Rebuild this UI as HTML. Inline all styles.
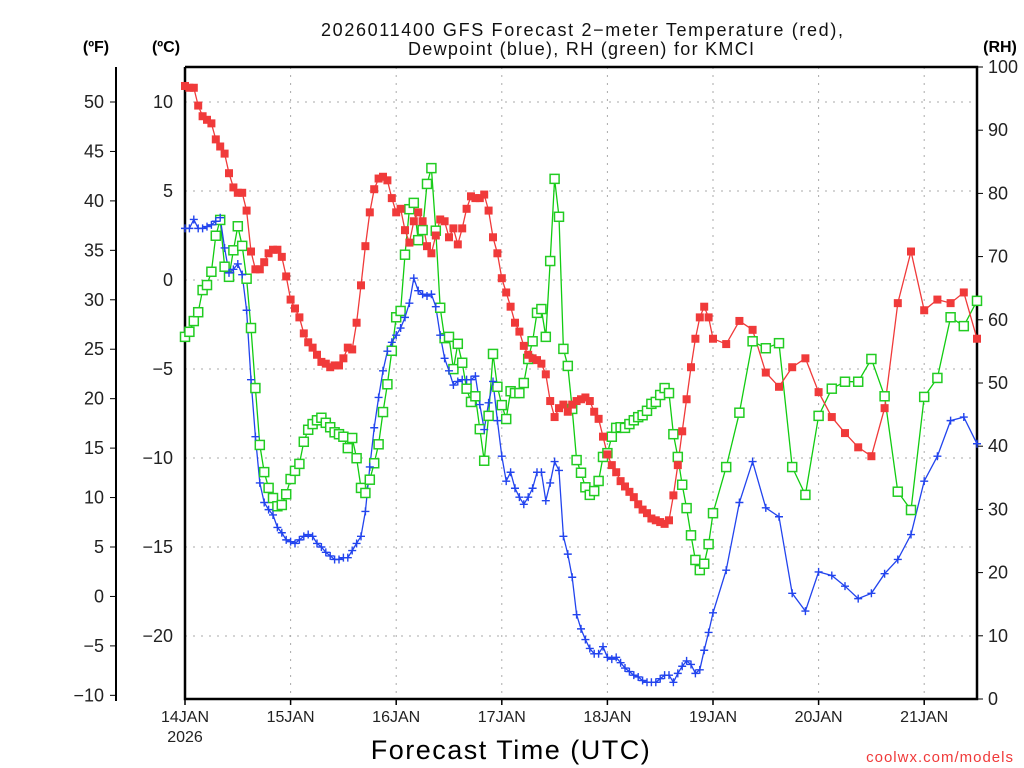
<!DOCTYPE html>
<html><head><meta charset="utf-8"><style>
body{margin:0;background:#fff;}
svg{display:block;font-family:"Liberation Sans","DejaVu Sans",sans-serif;}
</style></head><body>
<svg id="chart" width="1024" height="768" viewBox="0 0 1024 768"></svg>
<script>
const tempC=[10.9,10.8,10.8,9.8,9.2,9.0,8.8,7.9,7.5,7.1,6.0,5.2,4.9,4.9,3.9,1.6,0.6,0.6,1.0,1.5,1.7,1.7,1.3,0.2,-1.1,-1.6,-2.1,-3.0,-3.5,-3.8,-4.2,-4.6,-4.7,-4.9,-4.8,-4.8,-4.4,-3.8,-3.9,-2.4,-0.3,1.9,3.8,5.1,5.7,5.8,5.6,4.6,3.8,4.0,2.8,2.1,3.3,3.8,3.3,1.9,1.5,2.5,3.4,3.3,2.4,2.9,2.0,2.9,4.0,4.7,4.6,4.6,4.8,3.9,2.4,1.5,0.1,-0.7,-1.5,-2.4,-2.9,-3.7,-4.2,-4.4,-4.5,-4.7,-5.3,-6.8,-7.7,-7.2,-7.0,-7.4,-7.0,-6.8,-6.7,-6.6,-6.8,-7.4,-7.8,-8.8,-9.8,-10.4,-10.8,-11.3,-11.6,-11.9,-12.2,-12.6,-12.9,-13.1,-13.4,-13.5,-13.6,-13.7,-13.5,-12.1,-10.4,-8.5,-6.7,-4.9,-3.3,-2.1,-1.5,-2.1,-3.3,-3.6,-2.3,-2.8,-5.2,-6.0,-4.9,-4.4,-6.3,-7.7,-8.6,-9.4,-9.9,-7.2,-1.3,1.6,-1.7,-1.1,-1.3,-0.7,-3.3];
const dewC=[2.9,2.9,3.4,2.9,2.9,3.0,3.1,3.3,3.5,1.8,0.4,0.6,0.9,0.3,-1.7,-5.6,-8.8,-11.4,-12.5,-12.9,-13.2,-13.9,-14.2,-14.6,-14.7,-14.8,-14.6,-14.4,-14.3,-14.4,-14.8,-15.0,-15.3,-15.5,-15.7,-15.7,-15.6,-15.6,-15.2,-14.8,-14.4,-13.0,-10.5,-8.3,-6.6,-5.1,-4.0,-3.5,-3.1,-2.7,-2.1,-1.3,0.1,-0.6,-0.8,-0.9,-0.8,-1.5,-3.1,-4.4,-5.1,-5.9,-5.7,-5.6,-5.6,-5.6,-5.4,-7.0,-8.4,-6.9,-5.7,-7.9,-9.9,-11.3,-10.8,-11.7,-12.2,-12.6,-12.2,-11.7,-10.8,-10.8,-12.4,-11.4,-10.2,-10.7,-14.4,-15.4,-16.7,-18.8,-19.6,-20.2,-20.7,-21.0,-21.0,-20.6,-21.2,-21.3,-21.2,-21.5,-21.8,-22.0,-22.2,-22.3,-22.5,-22.6,-22.6,-22.6,-22.4,-22.2,-22.2,-22.6,-22.1,-21.7,-21.4,-21.6,-22.1,-21.9,-20.8,-19.8,-18.7,-16.3,-12.5,-10.2,-12.8,-13.3,-17.6,-18.6,-16.4,-16.6,-17.2,-17.9,-17.6,-16.5,-15.7,-14.3,-11.3,-9.9,-7.9,-7.7,-9.2];
const rhPct=[57.3,58.1,59.8,61.2,64.7,65.5,67.6,73.3,75.8,68.4,66.8,71.0,74.8,71.7,66.5,58.7,49.2,40.2,35.9,33.4,31.8,30.5,30.7,32.4,34.8,36.1,37.2,40.7,42.6,43.5,44.1,44.5,43.7,43.0,42.2,41.9,41.5,39.7,41.3,38.1,33.4,32.6,34.7,37.3,40.3,45.4,49.8,55.1,60.4,61.4,70.3,77.5,78.5,72.6,74.2,81.5,84.0,74.1,61.9,57.1,57.3,52.2,56.2,53.2,49.1,47.0,47.9,42.7,37.7,44.8,54.6,49.4,46.5,44.3,48.7,48.4,48.4,50.0,53.8,56.6,61.1,61.7,57.3,69.3,82.3,76.3,55.4,52.7,45.9,37.8,35.8,33.5,32.3,32.9,34.5,38.3,38.9,41.5,42.9,43.0,42.9,43.5,44.1,44.6,44.9,45.6,46.7,47.0,48.1,49.2,48.4,41.9,38.3,33.9,30.2,25.9,22.0,20.4,21.4,24.5,29.4,36.7,45.3,56.6,55.5,56.3,36.7,32.3,44.8,49.1,50.2,50.2,53.8,47.9,32.8,29.9,47.8,50.8,60.4,59.0,63.0];
const dayLabels=["14JAN","15JAN","16JAN","17JAN","18JAN","19JAN","20JAN","21JAN"];
const cTicks=[10,5,0,-5,-10,-15,-20];
const fTicks=[50,45,40,35,30,25,20,15,10,5,0,-5,-10];
const rhTicks=[0,10,20,30,40,50,60,70,80,90,100];
const hours=[];for(let h=0;h<=120;h++)hours.push(h);for(let h=123;h<=180;h+=3)hours.push(h);

const NS="http://www.w3.org/2000/svg";
const svg=document.getElementById('chart');
const L=185,R=977,T=67,B=699;
const xH=h=>L+h*(R-L)/180;
const yC=c=>280-17.8*c;
const yF=f=>yC((f-32)/1.8);
const yRH=r=>B-(B-T)*r/100;
function mk(tag,attrs,txt){const e=document.createElementNS(NS,tag);for(const k in attrs)e.setAttribute(k,attrs[k]);if(txt!==undefined)e.textContent=txt;svg.appendChild(e);return e;}

cTicks.forEach(c=>{const e=mk('line',{x1:L,x2:R,y1:yC(c),y2:yC(c),stroke:'#aaa','stroke-dasharray':'2,6'});

});
dayLabels.forEach((d,i)=>{const x=xH(i*24);if(i>0){const e=mk('line',{x1:x,x2:x,y1:T,y2:B,stroke:'#aaa','stroke-dasharray':'2,6'});

}
const t=mk('text',{x:x,y:722,'font-size':16,'text-anchor':'middle',fill:'#222'},d);


const tk=mk('line',{x1:x,x2:x,y1:B,y2:B+6,stroke:'#000','stroke-width':1.5});

});
cTicks.forEach(c=>{const t=mk('text',{x:173,y:yC(c)+6,'font-size':18,'text-anchor':'end',fill:'#222'},c<0?'\u2212'+(-c):String(c));

});
const fa=mk('line',{x1:116,x2:116,y1:T,y2:B+2,stroke:'#000','stroke-width':2});


fTicks.forEach(f=>{const y=yF(f);const tk=mk('line',{x1:110,x2:116,y1:y,y2:y,stroke:'#000'});


const t=mk('text',{x:104,y:y+6,'font-size':18,'text-anchor':'end',fill:'#222'},f<0?'\u2212'+(-f):String(f));

});
rhTicks.forEach(r=>{const y=yRH(r);const tk=mk('line',{x1:R,x2:R+6,y1:y,y2:y,stroke:'#000'});


const t=mk('text',{x:988,y:y+6,'font-size':18,'text-anchor':'start',fill:'#222'},String(r));

});
const fr=mk('polyline',{points:`${L},${T} ${L},${B} ${R},${B} ${R},${T} ${L},${T}`,fill:'none',stroke:'#000','stroke-width':2.5});



function series(vals,yf,color,name){
  const pts=vals.map((v,i)=>xH(hours[i]).toFixed(1)+','+yf(v).toFixed(1)).join(' ');
  const pl=mk('polyline',{points:pts,fill:'none',stroke:color,'stroke-width':1.3});
  
  
}
series(rhPct,yRH,'#11cc11','rh');
series(dewC,yC,'#2244ee','dewpoint');
series(tempC,yC,'#f03a3a','temperature');
rhPct.forEach((v,i)=>{const x=xH(hours[i]),y=yRH(v);const m=mk('rect',{x:x-4.5,y:y-4.5,width:9,height:9,fill:'#fff',stroke:'#22cc22','stroke-width':1.5});

});
dewC.forEach((v,i)=>{const x=xH(hours[i]),y=yC(v);const m=mk('path',{d:`M${x-4},${y}H${x+4}M${x},${y-4}V${y+4}`,stroke:'#2244ee','stroke-width':1.4,fill:'none'});

});
tempC.forEach((v,i)=>{const x=xH(hours[i]),y=yC(v);const m=mk('rect',{x:x-4,y:y-4,width:8,height:8,fill:'#f03a3a'});

});

[['(ºF)',96,52,'fahrenheit-unit'],['(ºC)',166,52,'celsius-unit'],['(RH)',1000,52,'rh-unit']].forEach(a=>{const t=mk('text',{x:a[1],y:a[2],'font-size':16,'font-weight':'bold','text-anchor':'middle',fill:'#000'},a[0]);

});
const t1=mk('text',{x:582,y:36,'font-size':18,'text-anchor':'middle',fill:'#111',textLength:522,lengthAdjust:'spacing'},'2026011400 GFS Forecast 2\u2212meter Temperature (red),');


const t2=mk('text',{x:581,y:55,'font-size':18,'text-anchor':'middle',fill:'#111',textLength:346,lengthAdjust:'spacing'},'Dewpoint (blue), RH (green) for KMCI');


const y26=mk('text',{x:185,y:742,'font-size':16,'text-anchor':'middle',fill:'#222'},'2026');


const xt=mk('text',{x:511,y:759,'font-size':27,'text-anchor':'middle',fill:'#000','letter-spacing':'1.5'},'Forecast Time (UTC)');


const cr=mk('text',{x:1014,y:762,'font-size':15,'text-anchor':'end',fill:'#f03a3a','letter-spacing':'1'},'coolwx.com/models');


</script>
</body></html>
